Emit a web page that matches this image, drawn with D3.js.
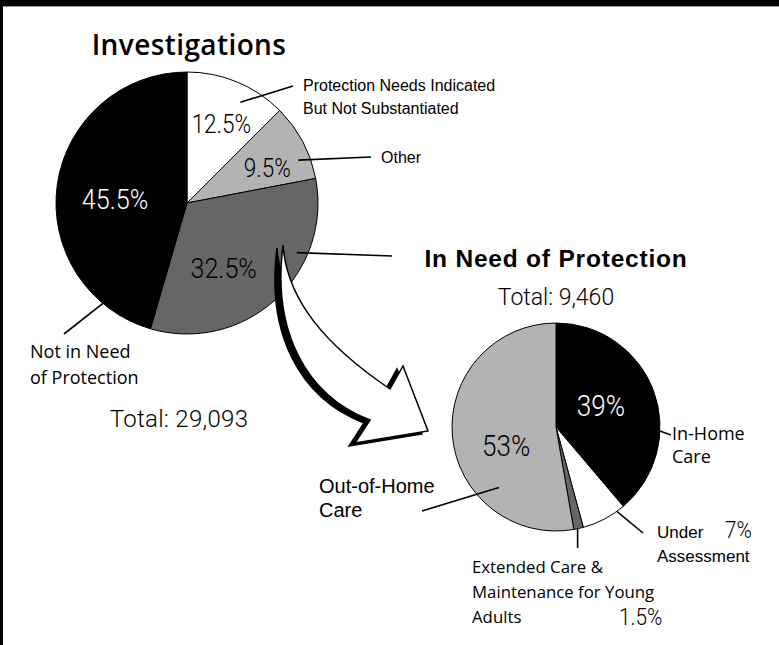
<!DOCTYPE html>
<html>
<head>
<meta charset="utf-8">
<script src="https://cdn.jsdelivr.net/npm/d3@7"></script>
<style>
  html, body { margin: 0; padding: 0; background: #fff; }
  svg { display: block; }
</style>
</head>
<body>
<script>
// ---- data -------------------------------------------------------------
const investigationCategories = [
  "Protection Needs Indicated But Not Substantiated",
  "Other",
  "In Need of Protection",
  "Not in Need of Protection"
];
const investigationShares = [12.5, 9.5, 32.5, 45.5];
const investigationTotal = 29093;

const protectionCategories = [
  "In-Home Care",
  "Under Assessment",
  "Extended Care & Maintenance for Young Adults",
  "Out-of-Home Care"
];
const protectionShares = [39, 7, 1.5, 53];
const protectionTotal = 9460;

// ---- page -------------------------------------------------------------
const W = 779, H = 645;
const LIGHT = "Roboto, 'Open Sans', sans-serif";
const HUMAN = "'Open Sans', 'Noto Sans', sans-serif";
const HELV = "'Liberation Sans', Arial, sans-serif";

const svg = d3.select("body").append("svg")
  .attr("width", W).attr("height", H)
  .attr("viewBox", `0 0 ${W} ${H}`);

svg.append("rect").attr("width", W).attr("height", H).attr("fill", "#fff");
// frame bands along the top and the left edge
svg.append("rect").attr("x", 0).attr("y", 0).attr("width", W).attr("height", 6).attr("fill", "#000");
svg.append("rect").attr("x", 0).attr("y", 6).attr("width", W).attr("height", 1).attr("fill", "#9a9a9a");
svg.append("rect").attr("x", 0).attr("y", 0).attr("width", 3).attr("height", H).attr("fill", "#000");

const fmtPct = d => `${d}%`;
const fmtTotal = d3.format(",");

const pie = d3.pie().sort(null).value(d => d);

function polar(cx, cy, r, a) {
  return [cx + r * Math.sin(a), cy - r * Math.cos(a)];
}

function drawPie(cfg) {
  const g = svg.append("g");
  const arcs = pie(cfg.values);
  const color = d3.scaleOrdinal().domain(cfg.categories).range(cfg.colors);
  const arc = d3.arc().innerRadius(0).outerRadius(cfg.r);

  g.append("g").attr("transform", `translate(${cfg.cx},${cfg.cy})`)
    .selectAll("path").data(arcs).join("path")
    .attr("d", arc)
    .attr("fill", (d, i) => color(cfg.categories[i]))
    .attr("stroke", "#000")
    .attr("stroke-width", 1)
    .attr("stroke-linejoin", "round");
  return { g, arcs };
}

// percentage text, slightly condensed
function pctText(x, y, value, size, fill, anchor = "middle") {
  svg.append("text")
    .attr("transform", `translate(${x},${y}) scale(0.9,1)`)
    .attr("dy", anchor === "middle" ? "0.36em" : 0)
    .attr("text-anchor", anchor)
    .attr("font-family", LIGHT).attr("font-weight", 300)
    .attr("font-size", size).attr("fill", fill)
    .text(fmtPct(value));
}

// ---- investigations pie ----------------------------------------------
const big = { cx: 187, cy: 203, r: 131 };
const bigPie = drawPie({
  ...big,
  values: investigationShares,
  categories: investigationCategories,
  colors: ["#ffffff", "#b3b3b3", "#666666", "#000000"]
});

// percentage labels: [radius factor, position within slice, size, fill]
const bigPctLayout = [
  [0.66, 0.52, 25, "#000"],
  [0.67, 0.62, 25, "#000"],
  [0.57, 0.61, 28, "#000"],
  [0.55, 0.47, 28, "#fff"]
];
bigPie.arcs.forEach((a, i) => {
  const [rf, f, fs, fill] = bigPctLayout[i];
  const ang = a.startAngle + f * (a.endAngle - a.startAngle);
  const [x, y] = polar(big.cx, big.cy, big.r * rf, ang);
  pctText(x, y, investigationShares[i], fs, fill);
});

// leaders: [position within slice, radius factor, end x, end y]
const bigLeaders = [
  [0.62, 0.87, 293, 86],
  [0.70, 0.91, 371, 157],
  [0.30, 0.92, 392, 256],
  [0.145, 1.0, 64, 334]
];
bigPie.arcs.forEach((a, i) => {
  const [f, rf, ex, ey] = bigLeaders[i];
  const ang = a.startAngle + f * (a.endAngle - a.startAngle);
  const [sx, sy] = polar(big.cx, big.cy, big.r * rf, ang);
  svg.append("line")
    .attr("x1", sx).attr("y1", sy).attr("x2", ex).attr("y2", ey)
    .attr("stroke", "#000").attr("stroke-width", 1.6);
});

function lines(x, y, rows, step, font, size, opts = {}) {
  const t = svg.append("text")
    .attr("font-family", font).attr("font-size", size)
    .attr("font-weight", opts.weight || 400)
    .attr("letter-spacing", opts.spacing || 0)
    .attr("fill", opts.fill || "#000")
    .attr("text-anchor", opts.anchor || "start");
  rows.forEach((r, k) => {
    t.append("tspan").attr("x", x).attr("y", y + k * step).text(r);
  });
  return t;
}

lines(189, 55, ["Investigations"], 0, HUMAN, 28, { weight: 600, anchor: "middle", spacing: 0.4 });
lines(303, 91, ["Protection Needs Indicated", "But Not Substantiated"], 23, HELV, 16);
lines(381, 163, ["Other"], 0, HELV, 16);
lines(30, 358, ["Not in Need", "of Protection"], 26, HUMAN, 18);
lines(179, 427, [`Total: ${fmtTotal(investigationTotal)}`], 0, LIGHT, 24, { weight: 300, anchor: "middle", spacing: 0.3 });

// ---- arrow from the first pie to the second --------------------------
const arrowPath = d3.path();
arrowPath.moveTo(283, 245);
arrowPath.bezierCurveTo(272, 330, 305, 395, 370, 420);
arrowPath.lineTo(355, 443);
arrowPath.lineTo(428, 431);
arrowPath.lineTo(403, 366);
arrowPath.lineTo(390, 389);
arrowPath.bezierCurveTo(325, 345, 287, 300, 283, 245);
arrowPath.closePath();

svg.append("path").attr("d", arrowPath.toString())
  .attr("transform", "translate(-6,3)")
  .attr("fill", "#000").attr("stroke", "#000").attr("stroke-width", 1.5)
  .attr("stroke-linejoin", "miter");
svg.append("path").attr("d", arrowPath.toString())
  .attr("fill", "#fff").attr("stroke", "#000").attr("stroke-width", 1.5)
  .attr("stroke-linejoin", "miter");

// ---- in need of protection pie ---------------------------------------
const small = { cx: 556, cy: 427, r: 104 };
const smallPie = drawPie({
  ...small,
  values: protectionShares,
  categories: protectionCategories,
  colors: ["#000000", "#ffffff", "#666666", "#b3b3b3"]
});

// labels inside the two large slices: [slice, radius, angle in degrees, fill]
[[0, 50, 64, "#fff"], [3, 53, 250, "#000"]].forEach(([i, rr, deg, fill]) => {
  const [x, y] = polar(small.cx, small.cy, rr, deg * Math.PI / 180);
  pctText(x, y, protectionShares[i], 29, fill);
});

// leaders: [position within slice, radius factor, end x, end y]
const smallLeaders = [
  [0.66, 1.0, 671, 435],
  [0.18, 1.0, 643, 533],
  [0.60, 1.0, null, 548],
  [0.28, 0.8, 422, 511]
];
smallPie.arcs.forEach((a, i) => {
  const [f, rf, ex, ey] = smallLeaders[i];
  const ang = a.startAngle + f * (a.endAngle - a.startAngle);
  const [sx, sy] = polar(small.cx, small.cy, small.r * rf, ang);
  svg.append("line")
    .attr("x1", sx).attr("y1", sy).attr("x2", ex == null ? sx : ex).attr("y2", ey)
    .attr("stroke", "#000").attr("stroke-width", 1.6);
});

lines(556, 267, ["In Need of Protection"], 0, HELV, 24.5, { weight: 700, anchor: "middle", spacing: 0.8 });
lines(556, 305, [`Total: ${fmtTotal(protectionTotal)}`], 0, LIGHT, 23, { weight: 300, anchor: "middle" });

lines(672, 440, ["In-Home", "Care"], 23, HUMAN, 18);
lines(657, 538, ["Under", "Assessment"], 24, HELV, 17);
pctText(725, 538, protectionShares[1], 23, "#000", "start");
lines(472, 573, ["Extended Care &", "Maintenance for Young", "Adults"], 25, HUMAN, 16.8);
pctText(619, 625, protectionShares[2], 23, "#000", "start");
lines(319, 493, ["Out-of-Home", "Care"], 24, HELV, 20);
</script>
</body>
</html>
